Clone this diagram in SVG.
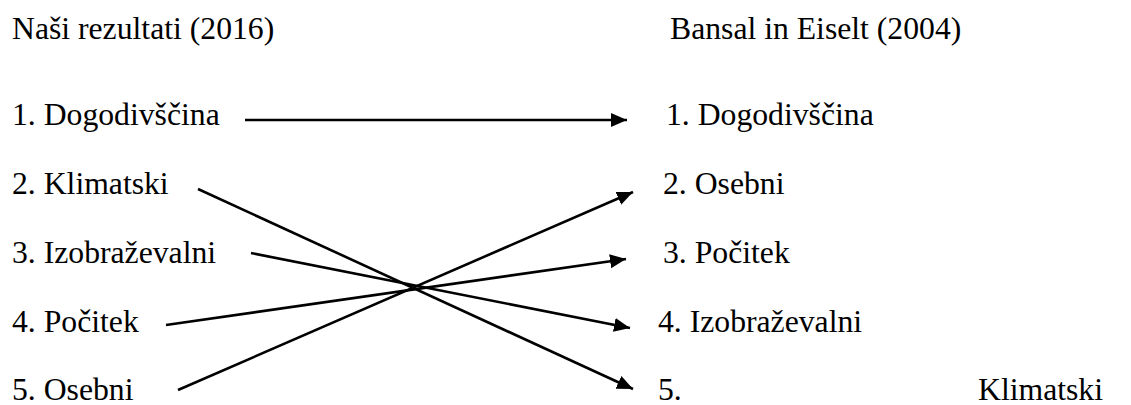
<svg xmlns="http://www.w3.org/2000/svg" width="1131" height="405" viewBox="0 0 1131 405">
<style>
text{font-family:'Liberation Serif','Tinos','Times New Roman','DejaVu Serif',serif;font-size:31.7px;fill:#000}
.c line{stroke:#000;stroke-width:2.6;fill:none;marker-end:url(#ah)}
</style>
<defs>
<marker id="ah" markerUnits="userSpaceOnUse" markerWidth="17" markerHeight="15" refX="16" refY="7" orient="auto">
<path d="M0,0 L16,7 L0,14 z" fill="#000"/>
</marker>
</defs>
<rect width="1131" height="405" fill="#fff"/>
<g id="title-left"><text x="12" y="39">Naši rezultati (2016)</text></g>
<g id="title-right"><text x="670" y="39">Bansal in Eiselt (2004)</text></g>
<g id="l1"><text x="12" y="125">1. Dogodivščina</text></g>
<g id="l2"><text x="12" y="194">2. Klimatski</text></g>
<g id="l3"><text x="12" y="263">3. Izobraževalni</text></g>
<g id="l4"><text x="12" y="332">4. Počitek</text></g>
<g id="l5"><text x="12" y="400">5. Osebni</text></g>
<g id="r1"><text x="666" y="125">1. Dogodivščina</text></g>
<g id="r2"><text x="663" y="194">2. Osebni</text></g>
<g id="r3"><text x="663" y="263">3. Počitek</text></g>
<g id="r4"><text x="658" y="332">4. Izobraževalni</text></g>
<g id="r5"><text x="658" y="400">5.</text><text x="978" y="400">Klimatski</text></g>
<g class="c" id="connectors">
<line x1="245" y1="120" x2="627" y2="120"/>
<line x1="198" y1="189" x2="633" y2="389"/>
<line x1="251" y1="253" x2="630" y2="328"/>
<line x1="166" y1="325" x2="626" y2="259"/>
<line x1="178" y1="390" x2="633" y2="192"/>
</g>
</svg>
